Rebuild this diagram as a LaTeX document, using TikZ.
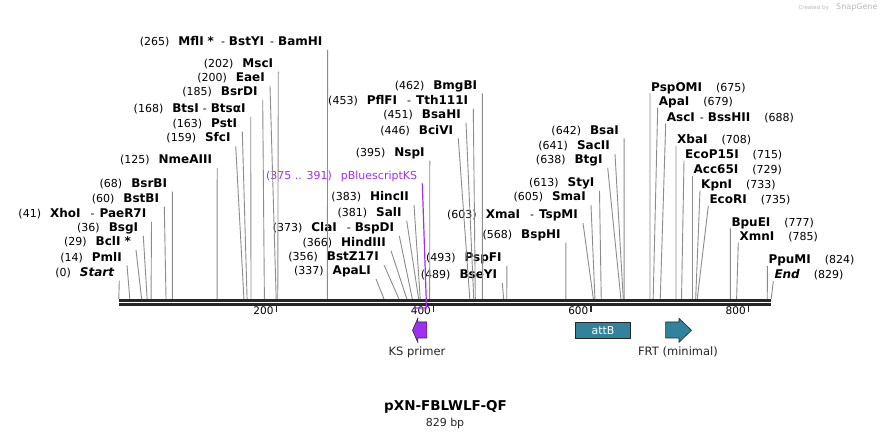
\documentclass[tikz,border=0pt]{standalone}
\usepackage{fontspec}
\setmainfont{DejaVu Sans}

\definecolor{cutgray}{RGB}{140,140,140}
\definecolor{bbone}{RGB}{38,38,38}
\definecolor{kspurple}{RGB}{160,48,240}
\definecolor{attteal}{RGB}{49,130,155}
\definecolor{wmgray}{RGB}{185,185,185}

\newcommand{\enz}[1]{{\fontsize{12}{14}\selectfont\bfseries #1}}
\newcommand{\gap}{\hspace{9pt}}
\newcommand{\rgap}{\hspace{14pt}}

\tikzset{
  lft/.style={anchor=base east, inner sep=0pt, xshift=-5pt, yshift=4pt},
  rgt/.style={anchor=base west, inner sep=0pt, xshift=1pt, yshift=2pt},
  cut/.style={draw=cutgray, line width=0.9pt},
  backbone/.style={draw=bbone, line width=2.7pt},
  tickline/.style={draw=bbone, line width=1.3pt},
  ticklbl/.style={anchor=base east, inner sep=0pt, xshift=-2.5pt, font=\fontsize{10.5}{12}\selectfont},
  featlbl/.style={inner sep=0pt, font=\fontsize{11.5}{13}\selectfont, text=bbone},
  ksline/.style={draw=kspurple, line width=1.2pt}
}

\begin{document}
\begin{tikzpicture}[x=1pt,y=-1pt,font=\fontsize{11}{13}\selectfont]
 	\path[fill=white,use as bounding box] (0,0) rectangle (892,438);

 	% sites on the sequence, in bp
 	\begin{scope}[shift={(118.8,299)},x=0.787pt]
 		\coordinate (s0) at (0,0);
 		\coordinate (s14) at (14,0);
 		\coordinate (s29) at (29,0);
 		\coordinate (s36) at (36,0);
 		\coordinate (s41) at (41,0);
 		\coordinate (s60) at (60,0);
 		\coordinate (s68) at (68,0);
 		\coordinate (s125) at (125,0);
 		\coordinate (s159) at (159,0);
 		\coordinate (s163) at (163,0);
 		\coordinate (s168) at (168,0);
 		\coordinate (s185) at (185,0);
 		\coordinate (s200) at (200,0);
 		\coordinate (s202) at (202,0);
 		\coordinate (s265) at (265,0);
 		\coordinate (s337) at (337,0);
 		\coordinate (s356) at (356,0);
 		\coordinate (s366) at (366,0);
 		\coordinate (s373) at (373,0);
 		\coordinate (s381) at (381,0);
 		\coordinate (s383) at (383,0);
 		\coordinate (s395) at (395,0);
 		\coordinate (s446) at (446,0);
 		\coordinate (s451) at (451,0);
 		\coordinate (s453) at (453,0);
 		\coordinate (s462) at (462,0);
 		\coordinate (s489) at (489,0);
 		\coordinate (s493) at (493,0);
 		\coordinate (s568) at (568,0);
 		\coordinate (s603) at (603,0);
 		\coordinate (s605) at (605,0);
 		\coordinate (s613) at (613,0);
 		\coordinate (s638) at (638,0);
 		\coordinate (s641) at (641,0);
 		\coordinate (s642) at (642,0);
 		\coordinate (s675) at (675,0);
 		\coordinate (s679) at (679,0);
 		\coordinate (s688) at (688,0);
 		\coordinate (s708) at (708,0);
 		\coordinate (s715) at (715,0);
 		\coordinate (s729) at (729,0);
 		\coordinate (s733) at (733,0);
 		\coordinate (s735) at (735,0);
 		\coordinate (s777) at (777,0);
 		\coordinate (s785) at (785,0);
 		\coordinate (s824) at (824,0);
 		\coordinate (s829) at (829,0);
 		\coordinate (k375) at (375,9);
 		\coordinate (k391) at (391,9);

 		\draw[tickline] (200,7) -- (200,13);
 		\draw[tickline] (400,7) -- (400,13);
 		\draw[tickline] (600,7) -- (600,13);
 		\draw[tickline] (800,7) -- (800,13);
 		\node[ticklbl] (t200) at (200,16) {200};
 		\node[ticklbl] (t400) at (400,16) {400};
 		\node[ticklbl] (t600) at (600,16) {600};
 		\node[ticklbl] (t800) at (800,16) {800};
 	\end{scope}

 	% enzymes left of their cut
 	\node[lft] (e265) at (327.6,50) {(265)\gap\enz{MflI\hspace{4pt}*}\hspace{7pt}-\hspace{4pt}\enz{BstYI}\hspace{6pt}-\hspace{4pt}\enz{BamHI}};
 	\node[lft] (e202) at (278.3,71.7) {(202)\gap\enz{MscI}};
 	\node[lft] (e200) at (270,86) {(200)\gap\enz{EaeI}};
 	\node[lft] (e185) at (262.7,100) {(185)\gap\enz{BsrDI}};
 	\node[lft] (e168) at (250.7,117) {(168)\gap\enz{BtsI}\hspace{4pt}-\hspace{4pt}\enz{BtsαI}};
 	\node[lft] (e163) at (242.3,131.7) {(163)\gap\enz{PstI}};
 	\node[lft] (e159) at (235.7,146) {(159)\gap\enz{SfcI}};
 	\node[lft] (e125) at (217.2,168) {(125)\gap\enz{NmeAIII}};
 	\node[lft] (e68) at (172.3,191.7) {(68)\gap\enz{BsrBI}};
 	\node[lft] (e60) at (164.3,206.7) {(60)\gap\enz{BstBI}};
 	\node[lft] (e41) at (151.5,221.7) {(41)\gap\enz{XhoI}\hspace{10pt}-\hspace{5pt}\enz{PaeR7I}};
 	\node[lft] (e36) at (143.3,236) {(36)\gap\enz{BsgI}};
 	\node[lft] (e29) at (136,250) {(29)\gap\enz{BclI\hspace{4pt}*}};
 	\node[lft] (e14) at (127,265.3) {(14)\gap\enz{PmlI}};
 	\node[lft] (e0) at (119.3,280.7) {(0)\gap\enz{\itshape Start}};

 	\node[lft,text=kspurple] (eks) at (422.3,183.3) {(375 .. 391)\gap pBluescriptKS};
 	\node[lft] (e395) at (429.8,160.7) {(395)\gap\enz{NspI}};
 	\node[lft] (e446) at (458.3,138.3) {(446)\gap\enz{BciVI}};
 	\node[lft] (e451) at (466,122.7) {(451)\gap\enz{BsaHI}};
 	\node[lft] (e453) at (473.3,109) {(453)\gap\enz{PflFI}\hspace{10pt}-\hspace{5pt}\enz{Tth111I}};
 	\node[lft] (e462) at (482.4,93.3) {(462)\gap\enz{BmgBI}};
 	\node[lft] (e383) at (414,205) {(383)\gap\enz{HincII}};
 	\node[lft] (e381) at (406.7,220.7) {(381)\gap\enz{SalI}};
 	\node[lft] (e373) at (399.3,236) {(373)\gap\enz{ClaI}\hspace{10pt}-\hspace{4pt}\enz{BspDI}};
 	\node[lft] (e366) at (391,250.7) {(366)\gap\enz{HindIII}};
 	\node[lft] (e356) at (384,265) {(356)\gap\enz{BstZ17I}};
 	\node[lft] (e337) at (376,279) {(337)\gap\enz{ApaLI}};
 	\node[lft] (e493) at (506.8,266) {(493)\gap\enz{PspFI}};
 	\node[lft] (e489) at (502.3,283) {(489)\gap\enz{BseYI}};
 	\node[lft] (e603) at (583,223) {(603)\gap\enz{XmaI}\hspace{10pt}-\hspace{5pt}\enz{TspMI}};
 	\node[lft] (e605) at (591,205) {(605)\gap\enz{SmaI}};
 	\node[lft] (e613) at (599.5,190.7) {(613)\gap\enz{StyI}};
 	\node[lft] (e568) at (565.8,242.7) {(568)\gap\enz{BspHI}};
 	\node[lft] (e638) at (607.7,167.7) {(638)\gap\enz{BtgI}};
 	\node[lft] (e641) at (615,154) {(641)\gap\enz{SacII}};
 	\node[lft] (e642) at (624.1,138.3) {(642)\gap\enz{BsaI}};

 	% enzymes right of their cut
 	\node[rgt] (e675) at (650,93.3) {\enz{PspOMI}\rgap(675)};
 	\node[rgt] (e679) at (657.7,107.7) {\enz{ApaI}\rgap(679)};
 	\node[rgt] (e688) at (665.7,123.3) {\enz{AscI}\hspace{5pt}-\hspace{4pt}\enz{BssHII}\rgap(688)};
 	\node[rgt] (e708) at (676,146) {\enz{XbaI}\rgap(708)};
 	\node[rgt] (e715) at (684,160.7) {\enz{EcoP15I}\rgap(715)};
 	\node[rgt] (e729) at (692.5,176) {\enz{Acc65I}\rgap(729)};
 	\node[rgt] (e733) at (700,190.7) {\enz{KpnI}\rgap(733)};
 	\node[rgt] (e735) at (708.3,206) {\enz{EcoRI}\rgap(735)};
 	\node[rgt] (e777) at (730.3,228.3) {\enz{BpuEI}\rgap(777)};
 	\node[rgt] (e785) at (738.3,242.7) {\enz{XmnI}\rgap(785)};
 	\node[rgt] (e824) at (767.3,266) {\enz{PpuMI}\rgap(824)};
 	\node[rgt] (e829) at (773.3,281) {\enz{\itshape End}\rgap(829)};

 	\draw[cut] ([xshift=5pt,yshift=-4pt]e265.base east) -- (s265);
 	\draw[cut] ([xshift=5pt,yshift=-4pt]e202.base east) -- (s202);
 	\draw[cut] ([xshift=5pt,yshift=-4pt]e200.base east) -- (s200);
 	\draw[cut] ([xshift=5pt,yshift=-4pt]e185.base east) -- (s185);
 	\draw[cut] ([xshift=5pt,yshift=-4pt]e168.base east) -- (s168);
 	\draw[cut] ([xshift=5pt,yshift=-4pt]e163.base east) -- (s163);
 	\draw[cut] ([xshift=5pt,yshift=-4pt]e159.base east) -- (s159);
 	\draw[cut] ([xshift=5pt,yshift=-4pt]e125.base east) -- (s125);
 	\draw[cut] ([xshift=5pt,yshift=-4pt]e68.base east) -- (s68);
 	\draw[cut] ([xshift=5pt,yshift=-4pt]e60.base east) -- (s60);
 	\draw[cut] ([xshift=5pt,yshift=-4pt]e41.base east) -- (s41);
 	\draw[cut] ([xshift=5pt,yshift=-4pt]e36.base east) -- (s36);
 	\draw[cut] ([xshift=5pt,yshift=-4pt]e29.base east) -- (s29);
 	\draw[cut] ([xshift=5pt,yshift=-4pt]e14.base east) -- (s14);
 	\draw[cut] ([xshift=5pt,yshift=-4pt]e0.base east) -- (s0);
 	\draw[cut] ([xshift=5pt,yshift=-4pt]e395.base east) -- (s395);
 	\draw[cut] ([xshift=5pt,yshift=-4pt]e446.base east) -- (s446);
 	\draw[cut] ([xshift=5pt,yshift=-4pt]e451.base east) -- (s451);
 	\draw[cut] ([xshift=5pt,yshift=-4pt]e453.base east) -- (s453);
 	\draw[cut] ([xshift=5pt,yshift=-4pt]e462.base east) -- (s462);
 	\draw[cut] ([xshift=5pt,yshift=-4pt]e383.base east) -- (s383);
 	\draw[cut] ([xshift=5pt,yshift=-4pt]e381.base east) -- (s381);
 	\draw[cut] ([xshift=5pt,yshift=-4pt]e373.base east) -- (s373);
 	\draw[cut] ([xshift=5pt,yshift=-4pt]e366.base east) -- (s366);
 	\draw[cut] ([xshift=5pt,yshift=-4pt]e356.base east) -- (s356);
 	\draw[cut] ([xshift=5pt,yshift=-4pt]e337.base east) -- (s337);
 	\draw[cut] ([xshift=5pt,yshift=-4pt]e493.base east) -- (s493);
 	\draw[cut] ([xshift=5pt,yshift=-4pt]e489.base east) -- (s489);
 	\draw[cut] ([xshift=5pt,yshift=-4pt]e603.base east) -- (s603);
 	\draw[cut] ([xshift=5pt,yshift=-4pt]e605.base east) -- (s605);
 	\draw[cut] ([xshift=5pt,yshift=-4pt]e613.base east) -- (s613);
 	\draw[cut] ([xshift=5pt,yshift=-4pt]e568.base east) -- (s568);
 	\draw[cut] ([xshift=5pt,yshift=-4pt]e638.base east) -- (s638);
 	\draw[cut] ([xshift=5pt,yshift=-4pt]e641.base east) -- (s641);
 	\draw[cut] ([xshift=5pt,yshift=-4pt]e642.base east) -- (s642);
 	\draw[cut] ([xshift=-1pt,yshift=-2pt]e675.base west) -- (s675);
 	\draw[cut] ([xshift=-1pt,yshift=-2pt]e679.base west) -- (s679);
 	\draw[cut] ([xshift=-1pt,yshift=-2pt]e688.base west) -- (s688);
 	\draw[cut] ([xshift=-1pt,yshift=-2pt]e708.base west) -- (s708);
 	\draw[cut] ([xshift=-1pt,yshift=-2pt]e715.base west) -- (s715);
 	\draw[cut] ([xshift=-1pt,yshift=-2pt]e729.base west) -- (s729);
 	\draw[cut] ([xshift=-1pt,yshift=-2pt]e733.base west) -- (s733);
 	\draw[cut] ([xshift=-1pt,yshift=-2pt]e735.base west) -- (s735);
 	\draw[cut] ([xshift=-1pt,yshift=-2pt]e777.base west) -- (s777);
 	\draw[cut] ([xshift=-1pt,yshift=-2pt]e785.base west) -- (s785);
 	\draw[cut] ([xshift=-1pt,yshift=-2pt]e824.base west) -- (s824);
 	\draw[cut] ([xshift=-1pt,yshift=-2pt]e829.base west) -- (s829);

 	% sequence
 	\draw[backbone] ([yshift=-1.3pt]s0) -- ([yshift=-1.3pt]s829);
 	\draw[backbone] ([yshift=-5.7pt]s0) -- ([yshift=-5.7pt]s829);

 	\draw[ksline] ([xshift=5pt,yshift=-4pt]eks.base east) -- (k391) -- (k375);

 	% features
 	\draw[fill=kspurple,draw=bbone,line width=0.6pt] (426.8,322) -- (417.8,322) -- (417.8,318.3) -- (412.5,330.3) -- (417.8,342.3) -- (417.8,338) -- (426.8,338) -- cycle;
 	\node[draw=bbone,fill=attteal,line width=0.6pt,minimum width=55pt,minimum height=16pt,inner sep=0pt,text=white,font=\fontsize{11}{13}\selectfont] (attb) at (603,330.3) {attB};
 	\draw[fill=attteal,draw=bbone,line width=0.6pt] (665.6,322) -- (679,322) -- (679,318.3) -- (691.5,330.3) -- (679,342.3) -- (679,338) -- (665.6,338) -- cycle;
 	\node[featlbl] (ksl) at (417,352) {KS primer};
 	\node[featlbl] (frtl) at (678,352) {FRT (minimal)};

 	% title
 	\node[inner sep=0pt,font=\fontsize{13.5}{15}\selectfont\bfseries] (title) at (445.5,407) {pXN-FBLWLF-QF};
 	\node[inner sep=0pt,text=bbone] (len) at (445,423) {829 bp};

 	\node[inner sep=0pt,anchor=east,text=wmgray,font=\fontsize{5.5}{6}\selectfont] (wm1) at (829,7.5) {Created by};
 	\node[inner sep=0pt,anchor=west,text=wmgray,font=\fontsize{8}{9}\selectfont] (wm2) at (836,7.5) {SnapGene};
\end{tikzpicture}
\end{document}
